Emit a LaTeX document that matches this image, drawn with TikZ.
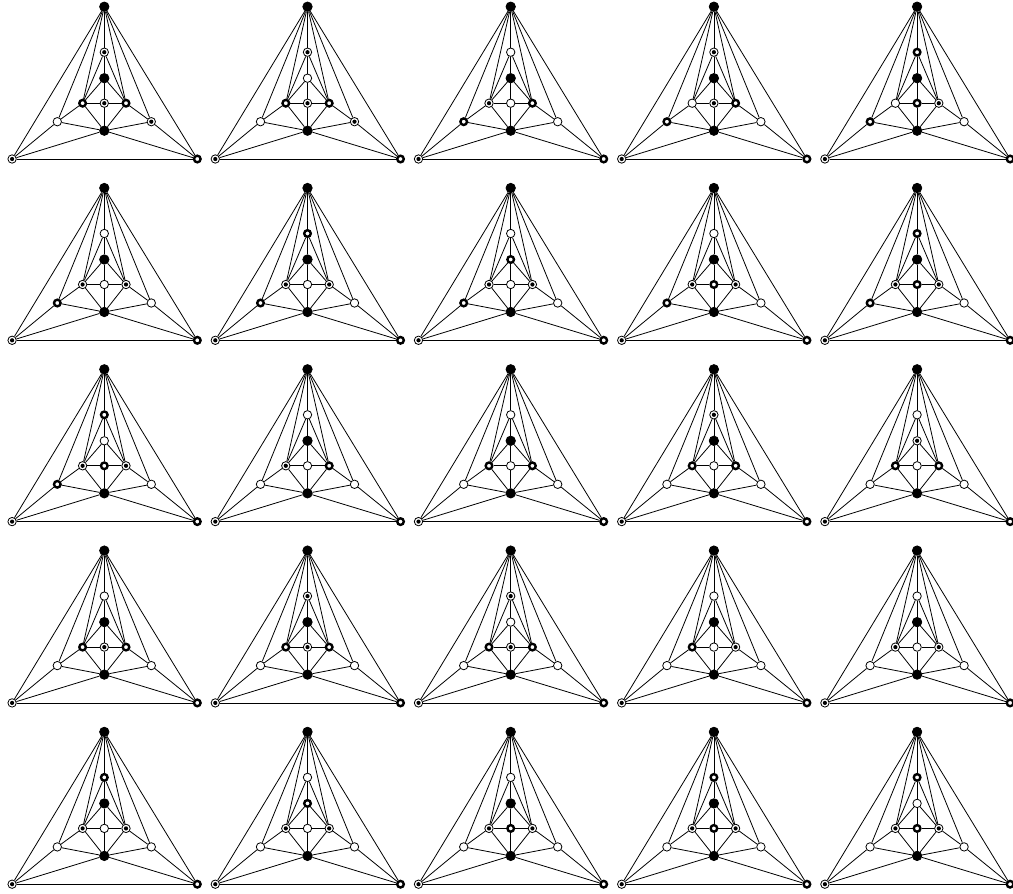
\documentclass[tikz,border=0pt]{standalone}
\begin{document}
\begin{tikzpicture}[x=1pt, y=-1pt, line width=0.8pt,
    vtx/.style={circle, draw, inner sep=0pt, minimum size=8.4pt, line width=0.8pt},
    vk/.style={vtx, fill=black, minimum size=9.4pt},
    vw/.style={vtx, fill=white},
    vd/.style={vtx, fill=white, path picture={\fill[black] (path picture bounding box.center) circle (2.1pt);}},
    vx/.style={vtx, fill=white, line width=2.4pt, minimum size=6.6pt}]

    \useasboundingbox (0,0) rectangle (1013,894);

    % 25 个图: A/B/L/C/R/OL/OR 的顶点类型
    \foreach \nA/\nB/\nL/\nC/\nR/\nP/\nQ [count=\i from 0] in {
        vd/vk/vx/vd/vx/vw/vd, vd/vw/vx/vd/vx/vw/vd, vw/vk/vd/vw/vx/vx/vw, vd/vk/vw/vd/vx/vx/vw, vx/vk/vw/vx/vd/vx/vw,
        vw/vk/vd/vw/vd/vx/vw, vx/vk/vd/vw/vd/vx/vw, vw/vx/vd/vw/vd/vx/vw, vw/vk/vd/vx/vd/vx/vw, vx/vk/vd/vx/vd/vx/vw,
        vx/vw/vd/vx/vd/vx/vw, vw/vk/vd/vw/vx/vw/vw, vw/vk/vx/vw/vx/vw/vw, vd/vk/vx/vw/vx/vw/vw, vw/vd/vx/vw/vx/vw/vw,
        vw/vk/vx/vd/vx/vw/vw, vd/vk/vx/vd/vx/vw/vw, vd/vw/vx/vd/vx/vw/vw, vw/vk/vx/vw/vd/vw/vw, vw/vk/vd/vw/vd/vw/vw,
        vx/vk/vd/vw/vd/vw/vw, vw/vx/vd/vw/vd/vw/vw, vw/vk/vd/vx/vd/vw/vw, vx/vk/vd/vx/vd/vw/vw, vx/vw/vd/vx/vd/vw/vw} {
    \pgfmathtruncatemacro{\col}{mod(\i,5)}
    \pgfmathtruncatemacro{\row}{\i/5}
    \begin{scope}[shift={(104.3+203.2*\col, 6.7+181.3*\row)}]
        % 顶点
        \node[vk] (t-\i) at (0, 0) {};
        \node[\nA] (a-\i) at (0, 45.5) {};
        \node[\nB] (b-\i) at (0, 71.5) {};
        \node[\nL] (l-\i) at (-21.7, 96.5) {};
        \node[\nC] (c-\i) at (0, 96.5) {};
        \node[\nR] (r-\i) at (21.7, 96.5) {};
        \node[\nP] (ol-\i) at (-47, 115) {};
        \node[\nQ] (or-\i) at (47, 115) {};
        \node[vk] (d-\i) at (0, 124) {};
        \node[vd] (bl-\i) at (-92.2, 152.3) {};
        \node[vx] (br-\i) at (93, 152.3) {};

        % 边
        \foreach \u/\v in {t/bl, t/br, t/ol, t/or, t/l, t/r, t/a, a/l, a/r, a/b,
            b/l, b/r, b/c, c/l, c/r, c/d, l/d, l/ol, r/d, r/or,
            ol/d, ol/bl, or/d, or/br, d/bl, d/br, bl/br}
            \draw (\u-\i) -- (\v-\i);
    \end{scope}
    }

\end{tikzpicture}
\end{document}
